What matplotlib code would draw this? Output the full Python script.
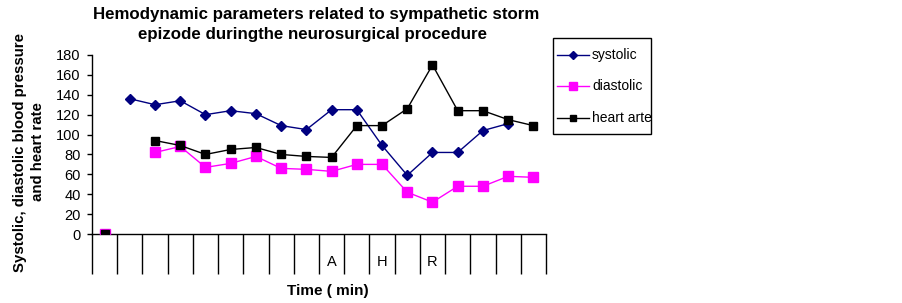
import numpy as np
import matplotlib
matplotlib.use("Agg")
import matplotlib.pyplot as plt
from matplotlib.lines import Line2D
from matplotlib.patches import Rectangle

plt.rcParams['font.family'] = ['Liberation Sans', 'DejaVu Sans']

nan = np.nan
categories = list(range(18))
tick_labels = ["", "", "", "", "", "", "", "", "", "A", "", "H", "", "R", "", "", "", ""]
series_names = ["systolic", "diastolic", "heart arte"]
systolic = [nan, 136, 130, 134, 120, 124, 121, 109, 105, 125, 125, 89, 59, 82, 82, 104, 111, nan]
diastolic = [0, nan, 82, 88, 67, 71, 78, 66, 65, 63, 70, 70, 42, 32, 48, 48, 58, 57]
heart_rate = [0, nan, 94, 89, 80, 85, 87, 80, 78, 77, 109, 109, 126, 170, 124, 124, 115, 109]

fig = plt.figure(figsize=(9.02, 3.03), dpi=100)
W, H = 902, 303
def fx(px): return px / W
def fy(py): return 1 - py / H

ax = fig.add_axes([fx(92), fy(234), (546 - 92) / W, (234 - 55) / H])

x = np.array(categories) + 0.5
styles = [
    dict(color='#000080', marker='D', markersize=5.5),
    dict(color='#FF00FF', marker='s', markersize=7),
    dict(color='black', marker='s', markersize=6),
]
for vals, st, name, z in zip([systolic, diastolic, heart_rate], styles, series_names, [3, 3, 4]):
    ax.plot(x, vals, lw=1, label=name, zorder=z, **st)

ax.set_xlim(0, 18)
ax.set_ylim(0, 180)
ax.set_yticks(range(0, 181, 20))
ax.tick_params(axis='y', direction='out', length=3.6, width=1, labelsize=10.5, pad=4.5)

ax.set_xticks(x)
ax.set_xticklabels(tick_labels, fontsize=10.5)
ax.tick_params(axis='x', which='major', length=0, pad=15)
ax.set_xticks(np.arange(0, 19), minor=True)
ax.tick_params(axis='x', which='minor', direction='out', length=28.5, width=1)

for s in ['top', 'right']:
    ax.spines[s].set_visible(False)
for s in ['left', 'bottom']:
    ax.spines[s].set_linewidth(1)

fig.text(fx(328), fy(291), 'Time ( min)', ha='center', va='center', fontsize=11, fontweight='bold')
fig.text(fx(20), fy(152), 'Systolic, diastolic blood pressure', rotation=90,
         ha='center', va='center', fontsize=10.8, fontweight='bold')
fig.text(fx(38), fy(152), 'and heart rate', rotation=90,
         ha='center', va='center', fontsize=10.8, fontweight='bold')
fig.text(fx(316), fy(15), 'Hemodynamic parameters related to sympathetic storm',
         ha='center', va='center', fontsize=12.2, fontweight='bold')
fig.text(fx(313), fy(35), 'epizode duringthe neurosurgical procedure',
         ha='center', va='center', fontsize=12.2, fontweight='bold')

# legend box drawn in figure coordinates
fig.patches.append(Rectangle((fx(553), fy(134)), (651 - 553) / W, (134 - 38) / H,
                             transform=fig.transFigure, fill=False, edgecolor='black', lw=1))
for name, st, yy in zip(series_names, styles, [55, 86, 118]):
    fig.add_artist(Line2D([fx(557), fx(589)], [fy(yy), fy(yy)], color=st['color'], lw=1,
                          transform=fig.transFigure))
    fig.add_artist(Line2D([fx(573)], [fy(yy)], color=st['color'], marker=st['marker'],
                          markersize=st['markersize'] - 1, transform=fig.transFigure))
    fig.text(fx(592), fy(yy), name, ha='left', va='center', fontsize=10)

fig.savefig('out.png', dpi=100)
